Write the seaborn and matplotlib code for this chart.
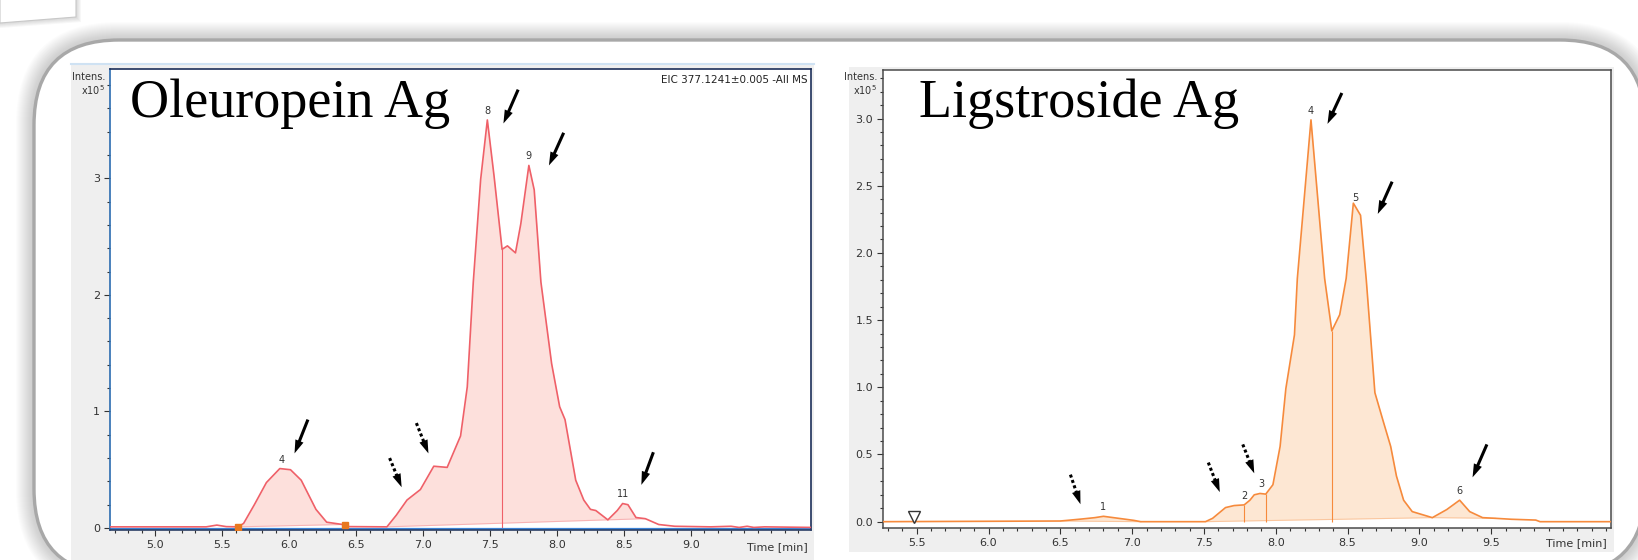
import numpy as np
import matplotlib
matplotlib.use("Agg")
import matplotlib.pyplot as plt
from matplotlib.patches import FancyBboxPatch, Rectangle, Polygon
from matplotlib.transforms import Affine2D, offset_copy
from matplotlib.ticker import MultipleLocator, FixedLocator, FormatStrFormatter
import seaborn as sns

# --- Oleuropein aglycone EIC (x10^5 counts) ---
ole_time = [4.66, 5.38, 5.46, 5.53, 5.62, 5.66, 5.74, 5.83, 5.93, 6.01, 6.09, 6.20, 6.28, 6.40,
            6.45, 6.73, 6.80, 6.88, 6.98, 7.08, 7.18, 7.28, 7.33, 7.375, 7.43, 7.48, 7.53, 7.59,
            7.63, 7.69, 7.73, 7.79, 7.83, 7.88, 7.96, 8.02, 8.06, 8.14, 8.20, 8.25, 8.29, 8.38,
            8.45, 8.49, 8.53, 8.59, 8.66, 8.76, 8.88, 9.15, 9.30, 9.36, 9.42, 9.47, 9.55, 9.90]
ole_int = [0.01, 0.01, 0.025, 0.012, 0.01, 0.04, 0.20, 0.39, 0.51, 0.50, 0.41, 0.16, 0.05, 0.03,
           0.012, 0.01, 0.11, 0.24, 0.33, 0.53, 0.52, 0.79, 1.21, 2.11, 2.99, 3.50, 3.02, 2.39,
           2.42, 2.36, 2.61, 3.11, 2.90, 2.11, 1.41, 1.04, 0.93, 0.41, 0.24, 0.16, 0.15, 0.07,
           0.15, 0.21, 0.20, 0.09, 0.08, 0.03, 0.015, 0.01, 0.015, 0.005, 0.015, 0.005, 0.01, 0.005]
ole_windows = [(5.62, 6.40), (6.73, 8.38), (8.38, 8.66)]
ole_splits = [7.59]
ole_marks = [5.62, 6.42]
ole_peak_ids = ["4", "8", "9", "11"]
ole_peak_time = [5.94, 7.48, 7.79, 8.49]

# --- Ligstroside aglycone EIC ---
lig_time = [5.265, 6.50, 6.65, 6.74, 6.80, 6.905, 7.01, 7.06, 7.51, 7.56, 7.65, 7.71, 7.78, 7.82,
            7.85, 7.89, 7.93, 7.98, 8.03, 8.07, 8.13, 8.15, 8.245, 8.34, 8.39, 8.445, 8.49, 8.54,
            8.59, 8.63, 8.69, 8.75, 8.80, 8.84, 8.89, 8.95, 9.09, 9.19, 9.28, 9.35, 9.44, 9.53,
            9.64, 9.81, 9.84, 10.335]
lig_int = [0.0, 0.005, 0.02, 0.03, 0.04, 0.025, 0.01, 0.0, 0.0, 0.025, 0.105, 0.12, 0.125, 0.16,
           0.20, 0.21, 0.205, 0.275, 0.56, 0.99, 1.39, 1.81, 2.99, 1.81, 1.42, 1.54, 1.81, 2.37,
           2.28, 1.80, 0.96, 0.74, 0.56, 0.34, 0.16, 0.075, 0.03, 0.09, 0.16, 0.075, 0.03, 0.025,
           0.018, 0.012, 0.0, 0.0]
lig_windows = [(6.50, 7.06), (7.51, 9.09), (9.09, 9.53)]
lig_splits = [7.78, 7.93, 8.39]
lig_marks = [5.48]
lig_peak_ids = ["1", "2", "3", "4", "5", "6"]
lig_peak_time = [6.80, 7.78, 7.90, 8.245, 8.555, 9.28]

# arrows: (tail, head, dotted)
ole_arrows = [((7.71, 3.76), (7.60, 3.47), False), ((8.05, 3.39), (7.94, 3.11), False),
              ((6.14, 0.93), (6.04, 0.64), False), ((6.95, 0.90), (7.04, 0.64), True),
              ((6.75, 0.60), (6.84, 0.35), True), ((8.72, 0.65), (8.63, 0.37), False)]
lig_arrows = [((8.46, 3.19), (8.36, 2.96), False), ((8.81, 2.53), (8.71, 2.29), False),
              ((6.57, 0.35), (6.64, 0.13), True), ((7.53, 0.44), (7.61, 0.22), True),
              ((7.77, 0.575), (7.85, 0.36), True), ((9.47, 0.575), (9.37, 0.33), False)]

RED, RED_FILL = "#ef6068", "#fde0dc"
ORANGE, ORANGE_FILL = "#f68a3c", "#fde7d3"

plt.rcParams["font.family"] = ["Liberation Sans Narrow", "DejaVu Sans"]

W, H = 1638, 560
fig = plt.figure(figsize=(W / 100, H / 100), dpi=100)
px = Affine2D().scale(1 / W, -1 / H).translate(0, 1) + fig.transFigure


def rect(l, t, r, b):
    return [l / W, 1 - b / H, (r - l) / W, (b - t) / H]


# slide decoration: rounded frame with soft shadow, corner card
for k in range(1, 19):
    fig.add_artist(FancyBboxPatch((34 - k, 40 - k), 1611 + 2 * k, 534 + 2 * k,
                                  boxstyle=f"round,pad=0,rounding_size={85 + k}", transform=px,
                                  facecolor="#808080", edgecolor="none", alpha=0.022, zorder=-10))
fig.add_artist(FancyBboxPatch((34, 40), 1611, 534, boxstyle="round,pad=0,rounding_size=85",
                              transform=px, facecolor="white", edgecolor="#a8a8a8", lw=2.4, zorder=-6))
for k in range(1, 6):
    fig.add_artist(Polygon([(0, -5), (76 + k, -5), (76 + k, 17 + k), (0, 23 + k)], transform=px,
                           facecolor="#909090", alpha=0.07, edgecolor="none", zorder=-9))
fig.add_artist(Polygon([(0, -5), (76, -5), (76, 17), (0, 23)], transform=px,
                       facecolor="white", edgecolor="#c8c8c8", lw=0.8, zorder=-8))

fig.add_artist(Rectangle((71, 63), 743, 500, transform=px, facecolor="#efefef",
                         edgecolor="none", zorder=-4))
fig.add_artist(plt.Line2D([71, 814], [63.5, 63.5], transform=px, color="#cfe2f3", lw=1.5, zorder=-3))
fig.add_artist(Rectangle((849, 67), 765, 485, transform=px, facecolor="#efefef",
                         edgecolor="none", zorder=-4))

ax1 = fig.add_axes(rect(110, 69, 811, 530))
ax2 = fig.add_axes(rect(883, 70, 1611, 528))

panels = [
    (ax1, ole_time, ole_int, ole_windows, ole_splits, RED, RED_FILL, ole_peak_ids, ole_peak_time,
     ole_arrows),
    (ax2, lig_time, lig_int, lig_windows, lig_splits, ORANGE, ORANGE_FILL, lig_peak_ids,
     lig_peak_time, lig_arrows),
]

for ax, tt, vv, windows, splits, line_c, fill_c, ids, ptimes, arrows in panels:
    t = np.array(tt)
    v = np.array(vv)
    ax.set_facecolor("white")
    for a, b in windows:
        m = (t >= a) & (t <= b)
        base = np.interp(t[m], [a, b], [np.interp(a, t, v), np.interp(b, t, v)])
        ax.fill_between(t[m], base, v[m], color=fill_c, lw=0, zorder=1)
        ax.plot([a, b], [base[0], base[-1]], color=line_c, alpha=0.35, lw=0.8, zorder=2)
    ax.vlines(splits, 0, np.interp(splits, t, v), color=line_c, lw=0.8, zorder=2)
    sns.lineplot(x=t, y=v, ax=ax, color=line_c, lw=1.2, sort=False, estimator=None, zorder=3)
    for lbl, pt in zip(ids, ptimes):
        ax.annotate(lbl, (pt, np.interp(pt, t, v)), xytext=(0, 3), textcoords="offset points",
                    ha="center", va="bottom", fontsize=7, color="#333333")
    for tail, head, dotted in arrows:
        # shaft stops at the base of the head, head drawn as a filled wedge
        bx = tail[0] + 0.66 * (head[0] - tail[0])
        by = tail[1] + 0.66 * (head[1] - tail[1])
        ax.plot([tail[0], bx], [tail[1], by], color="black", lw=2.2, solid_capstyle="butt",
                dash_capstyle="butt", linestyle=(0, (1.0, 0.85)) if dotted else "-", zorder=5)
        ax.annotate("", xy=head, xytext=(bx, by),
                    arrowprops=dict(arrowstyle="-|>,head_length=0.8,head_width=0.26",
                                    mutation_scale=12, lw=0, color="black",
                                    shrinkA=0, shrinkB=0),
                    zorder=5)
    ax.set_xlabel("")
    ax.set_ylabel("")
    ax.tick_params(axis="both", which="major", direction="out", length=4, width=0.8,
                   labelsize=8, colors="#333333", pad=3)
    ax.tick_params(axis="both", which="minor", direction="out", length=2.5, width=0.8,
                   colors="#333333")

# left panel specifics
ax1.axhline(-0.008, color="#3b82d6", lw=1.6, zorder=2)
ot, oi = np.array(ole_time), np.array(ole_int)
ax1.plot(ole_marks, np.interp(ole_marks, ot, oi), "s", color="#e8781e", ms=4, zorder=4)
ax1.set_xlim(4.662, 9.897)
ax1.set_ylim(-0.017, 3.937)
ax1.xaxis.set_major_locator(FixedLocator([5.0, 5.5, 6.0, 6.5, 7.0, 7.5, 8.0, 8.5, 9.0]))
ax1.xaxis.set_major_formatter(FormatStrFormatter("%.1f"))
ax1.xaxis.set_minor_locator(MultipleLocator(0.1))
ax1.yaxis.set_major_locator(FixedLocator([0, 1, 2, 3]))
ax1.yaxis.set_major_formatter(FormatStrFormatter("%d"))
ax1.yaxis.set_minor_locator(MultipleLocator(0.2))
ax1.spines["top"].set_color("#1c2f5a")
ax1.spines["right"].set_color("#1c2f5a")
ax1.spines["left"].set_color("#2b6cb0")
ax1.spines["bottom"].set_color("#2b3f66")
for s in ax1.spines.values():
    s.set_linewidth(1.2)

# right panel specifics
lt, li = np.array(lig_time), np.array(lig_int)
ax2.plot(lig_marks, np.interp(lig_marks, lt, li), "v", ms=8, mfc="white", mec="#333333", mew=1,
         transform=offset_copy(ax2.transData, fig=fig, y=5, units="dots"), zorder=4)
ax2.set_xlim(5.265, 10.334)
ax2.set_ylim(-0.047, 3.361)
ax2.xaxis.set_major_locator(FixedLocator([5.5, 6.0, 6.5, 7.0, 7.5, 8.0, 8.5, 9.0, 9.5]))
ax2.xaxis.set_major_formatter(FormatStrFormatter("%.1f"))
ax2.xaxis.set_minor_locator(MultipleLocator(0.1))
ax2.yaxis.set_major_locator(MultipleLocator(0.5))
ax2.yaxis.set_major_formatter(FormatStrFormatter("%.1f"))
ax2.yaxis.set_minor_locator(MultipleLocator(0.1))
for s in ax2.spines.values():
    s.set_color("#4a4a4a")
    s.set_linewidth(1.1)

# texts
serif = ["Liberation Serif", "DejaVu Serif"]
fig.text(130, 117, "Oleuropein Ag", transform=px, fontsize=39, family=serif, va="baseline")
fig.text(919, 117, "Ligstroside Ag", transform=px, fontsize=39, family=serif, va="baseline")
fig.text(808, 80, "EIC 377.1241±0.005 -All MS", transform=px, ha="right", va="center",
         fontsize=7.5, color="#222222")
for x_right, y_top in [(105, 77), (877, 77)]:
    fig.text(x_right, y_top, "Intens.", transform=px, ha="right", va="center", fontsize=7,
             color="#333333")
    fig.text(x_right, y_top + 13, r"x10$^5$", transform=px, ha="right", va="center", fontsize=7,
             color="#333333")
fig.text(808, 547, "Time [min]", transform=px, ha="right", va="center", fontsize=8, color="#333333")
fig.text(1607, 543, "Time [min]", transform=px, ha="right", va="center", fontsize=8, color="#333333")

fig.savefig("out.png", dpi=100)
